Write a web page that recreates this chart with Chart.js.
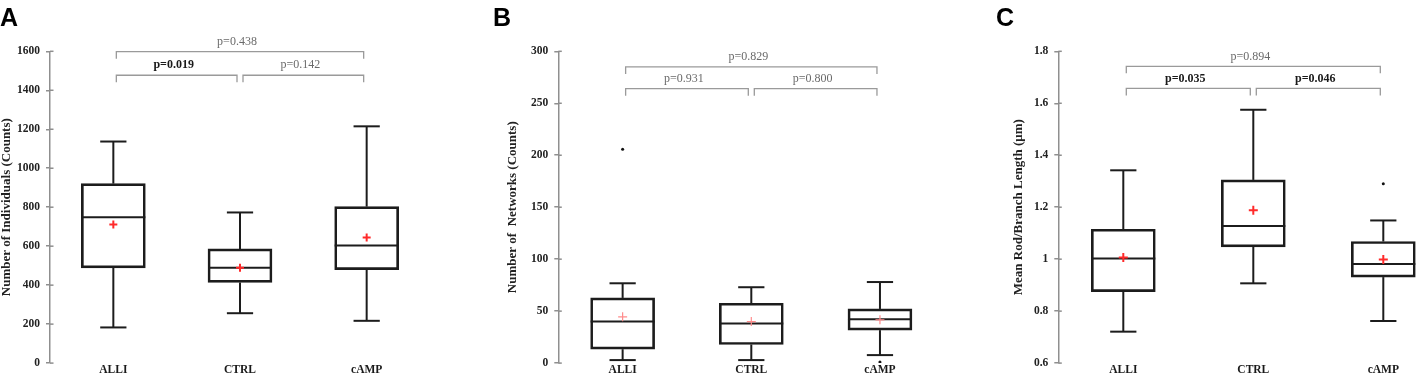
<!DOCTYPE html>
<html><head><meta charset="utf-8">
<script src="https://cdn.jsdelivr.net/npm/chart.js@4.4.1/dist/chart.umd.min.js"></script>
<style>
html,body{margin:0;padding:0;background:#fff;overflow:hidden;width:1418px;height:376px;position:relative}
.wrap{position:absolute;top:0;overflow:hidden;height:376px}
canvas{position:absolute;top:0;left:0}
.letter{position:absolute;top:5px;font-family:'Liberation Sans',Arial,sans-serif;font-weight:bold;font-size:25px;line-height:25px;color:#000}
</style></head><body>
<div class="wrap" style="left:0;width:470px"><canvas id="cA" width="470" height="376"></canvas></div>
<div class="wrap" style="left:470px;width:480px"><canvas id="cB" width="480" height="376"></canvas></div>
<div class="wrap" style="left:940px;width:478px"><canvas id="cC" width="520" height="376"></canvas></div>
<div class="letter" style="left:0">A</div>
<div class="letter" style="left:493px">B</div>
<div class="letter" style="left:996px">C</div>
<script>
// ---------- data ----------
const categories = ['ALLI', 'CTRL', 'cAMP'];

// Panel A: Number of Individuals (Counts)
const aMin  = [183, 256, 217];
const aQ1   = [489, 414, 480];
const aMed  = [749, 489, 603];
const aQ3   = [921, 586, 803];
const aMax  = [1137, 773, 1215];
const aMean = [711, 489, 645];
const aOutliers = [];
const aTicks = [0, 200, 400, 600, 800, 1000, 1200, 1400, 1600];
const aPairs = [[0, 1], [1, 2], [0, 2]];
const aPLabels = ['p=0.019', 'p=0.142', 'p=0.438'];
const aPBold = [true, false, false];
const aLevels = [1477, 1477, 1598];

// Panel B: Number of Networks (Counts)
const bMin  = [2.9, 2.9, 7.7];
const bQ1   = [13.4, 17.9, 31.7];
const bMed  = [40, 38, 42.2];
const bQ3   = [62.7, 57.6, 52.1];
const bMax  = [76.8, 73, 78];
const bMean = [44.5, 40, 41.6];
const bOutliers = [{x: 'ALLI', y: 205.7}, {x: 'cAMP', y: 1}];
const bTicks = [0, 50, 100, 150, 200, 250, 300];
const bPairs = [[0, 1], [1, 2], [0, 2]];
const bPLabels = ['p=0.931', 'p=0.800', 'p=0.829'];
const bPBold = [false, false, false];
const bLevels = [264, 264, 285];

// Panel C: Mean Rod/Branch Length (µm)
const cMin  = [0.721, 0.907, 0.762];
const cQ1   = [0.875, 1.047, 0.931];
const cMed  = [1.003, 1.128, 0.981];
const cQ3   = [1.115, 1.305, 1.068];
const cMax  = [1.342, 1.575, 1.149];
const cMean = [1.006, 1.188, 0.999];
const cOutliers = [{x: 'cAMP', y: 1.29}];
const cTicks = [0.6, 0.8, 1, 1.2, 1.4, 1.6, 1.8];
const cPairs = [[0, 1], [1, 2], [0, 2]];
const cPLabels = ['p=0.035', 'p=0.046', 'p=0.894'];
const cPBold = [true, true, false];
const cLevels = [1.657, 1.657, 1.742];

// ---------- drawing ----------
const SERIF = "'Liberation Serif','Times New Roman',serif";
Chart.defaults.font.family = SERIF;

function seg(ctx, x1, y1, x2, y2) {
  ctx.beginPath(); ctx.moveTo(x1, y1); ctx.lineTo(x2, y2); ctx.stroke();
}

function extras(s) {
  return {
    id: 'boxExtras',
    beforeDatasetsDraw(chart) {
      const ctx = chart.ctx, x = chart.scales.x, y = chart.scales.y;
      const bars = chart.getDatasetMeta(2).data;
      ctx.save();
      ctx.strokeStyle = '#1c1c1c';
      ctx.lineWidth = 2;
      s.med.forEach((m, i) => {
        const cx = x.getPixelForValue(i);
        const bw = bars[i].width;
        const cw = bw * 0.41;
        const yMin = y.getPixelForValue(s.min[i]);
        const yMax = y.getPixelForValue(s.max[i]);
        const yQ1 = y.getPixelForValue(s.q1[i]);
        const yQ3 = y.getPixelForValue(s.q3[i]);
        const yMed = y.getPixelForValue(m);
        seg(ctx, cx, yQ3, cx, yMax);
        seg(ctx, cx, yQ1, cx, yMin);
        seg(ctx, cx - cw / 2, yMax, cx + cw / 2, yMax);
        seg(ctx, cx - cw / 2, yMin, cx + cw / 2, yMin);
        seg(ctx, cx - bw / 2, yMed, cx + bw / 2, yMed);
      });
      ctx.restore();
    },
    afterDraw(chart) {
      const ctx = chart.ctx, x = chart.scales.x, y = chart.scales.y;
      ctx.save();
      // inner half of the crossing tick marks
      ctx.strokeStyle = '#8f8f8f';
      ctx.lineWidth = 1.5;
      y.ticks.forEach(t => {
        const py = y.getPixelForValue(t.value);
        seg(ctx, y.right, py, y.right + 3.5, py);
      });
      // significance brackets
      s.pairs.forEach((pr, k) => {
        const yy = y.getPixelForValue(s.levels[k]);
        const x1 = x.getPixelForValue(pr[0]) + 3;
        const x2 = x.getPixelForValue(pr[1]) - 3;
        ctx.strokeStyle = '#9a9a9a';
        ctx.lineWidth = 1.3;
        ctx.beginPath();
        ctx.moveTo(x1, yy + 7); ctx.lineTo(x1, yy); ctx.lineTo(x2, yy); ctx.lineTo(x2, yy + 7);
        ctx.stroke();
        ctx.font = (s.bold[k] ? 'bold ' : '') + '12px ' + SERIF;
        ctx.fillStyle = s.bold[k] ? '#1a1a1a' : '#6a6a6a';
        ctx.textAlign = 'center';
        ctx.textBaseline = 'middle';
        ctx.fillText(s.labels[k], (x1 + x2) / 2 - 3, yy - 10);
      });
      ctx.restore();
    }
  };
}

function makeChart(id, s, look) {
  return new Chart(document.getElementById(id), {
    type: 'bar',
    data: {
      labels: categories,
      datasets: [
        {type: 'line', data: s.mean, showLine: false, pointStyle: 'cross',
         pointRadius: look.meanR, pointBorderColor: look.meanColor, pointBorderWidth: look.meanW,
         pointBackgroundColor: look.meanColor, order: 0},
        {type: 'line', data: s.outliers, showLine: false, pointStyle: 'circle',
         pointRadius: 1.5, pointBackgroundColor: '#111', pointBorderWidth: 0, order: 1},
        {type: 'bar', data: s.q1.map((v, i) => [v, s.q3[i]]), backgroundColor: 'rgba(0,0,0,0)',
         borderColor: '#1c1c1c', borderWidth: 2, borderSkipped: false, barThickness: 64,
         grouped: false, order: 2}
      ]
    },
    options: {
      responsive: false,
      animation: false,
      devicePixelRatio: 1,
      layout: {padding: {left: look.padL, right: look.padR, top: 51.3, bottom: 0}},
      plugins: {legend: {display: false}, tooltip: {enabled: false}},
      scales: {
        x: {
          type: 'category',
          grid: {display: false, drawTicks: false},
          border: {display: false},
          ticks: {font: {size: 11.5, weight: 'bold'}, color: '#1a1a1a', padding: 0},
          afterFit(sc) { sc.height = 12.5; }
        },
        y: {
          min: s.ticks[0], max: s.ticks[s.ticks.length - 1],
          afterBuildTicks(sc) { sc.ticks = s.ticks.map(v => ({value: v})); },
          ticks: {font: {size: 11.5, weight: 'bold'}, color: '#222', padding: 6,
                  callback: v => String(v)},
          grid: {display: true, drawOnChartArea: false, drawTicks: true, tickLength: 4,
                 color: '#8f8f8f', lineWidth: 1.5},
          border: {display: true, color: '#8f8f8f', width: 1.5},
          title: {display: true, text: s.title, font: {size: 13, weight: 'bold', lineHeight: 1},
                  color: '#222', padding: 0},
          afterFit(sc) { sc.width = look.yW; }
        }
      }
    },
    plugins: [extras(s)]
  });
}

makeChart('cA', {min: aMin, q1: aQ1, med: aMed, q3: aQ3, max: aMax, mean: aMean, outliers: aOutliers,
  ticks: aTicks, pairs: aPairs, labels: aPLabels, bold: aPBold, levels: aLevels,
  title: 'Number of Individuals (Counts)'},
  {padL: 0.5, padR: 40, yW: 49.5, meanR: 4, meanW: 2, meanColor: '#ff2a2a'});

makeChart('cB', {min: bMin, q1: bQ1, med: bMed, q3: bQ3, max: bMax, mean: bMean, outliers: bOutliers,
  ticks: bTicks, pairs: bPairs, labels: bPLabels, bold: bPBold, levels: bLevels,
  title: 'Number of  Networks (Counts)'},
  {padL: 36.5, padR: 5.6, yW: 51.8, meanR: 4.5, meanW: 1.2, meanColor: '#ff8c8c'});

makeChart('cC', {min: cMin, q1: cQ1, med: cMed, q3: cQ3, max: cMax, mean: cMean, outliers: cOutliers,
  ticks: cTicks, pairs: cPairs, labels: cPLabels, bold: cPBold, levels: cLevels,
  title: 'Mean Rod/Branch Length (μm)'},
  {padL: 72.5, padR: 11.7, yW: 45.8, meanR: 4.5, meanW: 2, meanColor: '#ff2a2a'});
</script>
</body></html>
